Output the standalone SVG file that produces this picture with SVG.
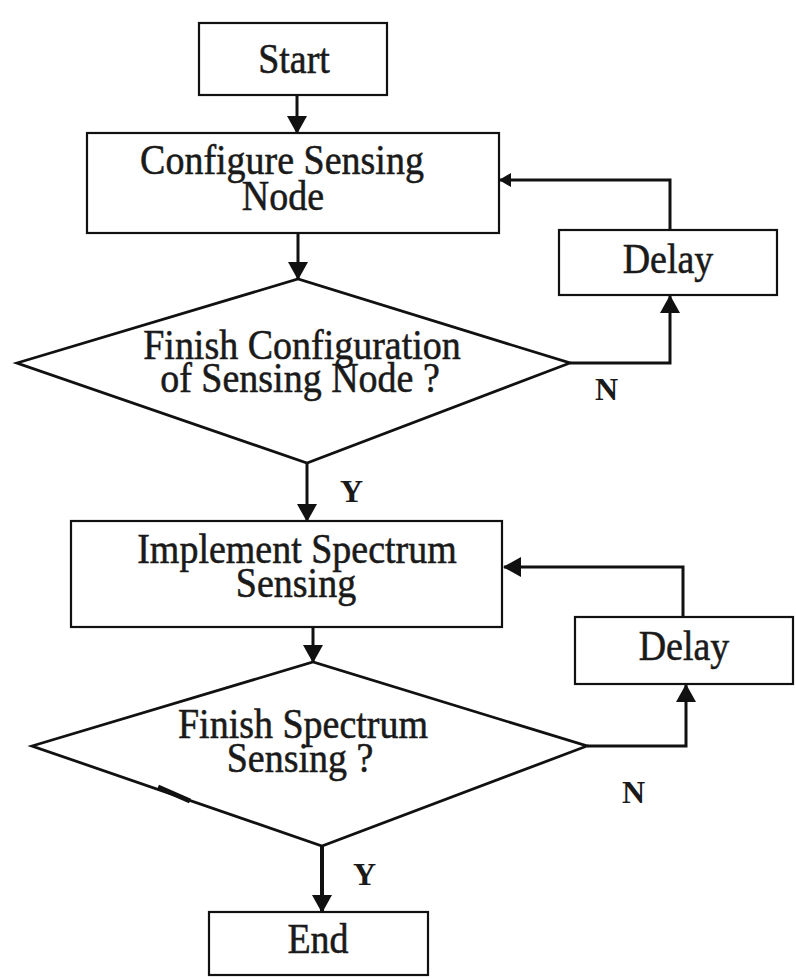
<svg xmlns="http://www.w3.org/2000/svg" width="796" height="979" viewBox="0 0 796 979">
<defs>
<style>
.box{fill:#ffffff;stroke:#111;stroke-width:2.2}
.dia{fill:#ffffff;stroke:#111;stroke-width:2.8}
.con{fill:none;stroke:#111;stroke-width:3}
.t{font-family:"Liberation Serif","Times New Roman",serif;font-size:38px;fill:#1a1a1a;stroke:#1a1a1a;stroke-width:0.5;text-anchor:middle}
.lbl{font-family:"Liberation Serif","Times New Roman",serif;font-size:32px;font-weight:bold;fill:#1a1a1a;text-anchor:start}
</style>
<marker id="ah" viewBox="0 0 18 20" refX="17" refY="10" markerWidth="18" markerHeight="20" markerUnits="userSpaceOnUse" orient="auto">
<path d="M0,0 L18,10 L0,20 z" fill="#111"/>
</marker>
<marker id="ahs" viewBox="0 0 12 14" refX="11" refY="7" markerWidth="12" markerHeight="14" markerUnits="userSpaceOnUse" orient="auto">
<path d="M0,0 L12,7 L0,14 z" fill="#111"/>
</marker>
</defs>
<rect width="796" height="979" fill="#ffffff"/>
<g id="connectors">
<path class="con" d="M297,95 L297,133" marker-end="url(#ah)"/>
<path class="con" d="M298,233 L298,279" marker-end="url(#ah)"/>
<path class="con" d="M570,363 L670,363 L670,296" marker-end="url(#ah)"/>
<path class="con" d="M670,230 L670,180 L500,180" marker-end="url(#ahs)"/>
<path class="con" d="M307,463 L307,521" marker-end="url(#ah)"/>
<path class="con" d="M313,627 L313,662" marker-end="url(#ah)"/>
<path class="con" d="M587,746 L686,746 L686,685" marker-end="url(#ah)"/>
<path class="con" d="M683,617 L683,567 L504,567" marker-end="url(#ah)"/>
<path class="con" style="stroke-width:4" d="M322,846 L322,912" marker-end="url(#ah)"/>
</g>
<g id="start">
<rect class="box" x="199" y="23" width="188" height="72"/>
<text class="t" transform="translate(294,73) scale(1,1.12)">Start</text>
</g>
<g id="configure">
<rect class="box" x="87" y="133" width="412" height="100"/>
<text class="t" transform="translate(282,174) scale(1,1.12)">Configure Sensing</text>
<text class="t" transform="translate(283,210) scale(1,1.12)">Node</text>
</g>
<g id="delay1">
<rect class="box" x="559" y="230" width="218" height="65"/>
<text class="t" transform="translate(668,273) scale(1,1.12)">Delay</text>
</g>
<g id="decision1">
<polygon class="dia" points="17,363 298,279 570,363 307,463"/>
<text class="t" transform="translate(302,359) scale(1,1.12)">Finish Configuration</text>
<text class="t" transform="translate(300,392) scale(1,1.12)">of Sensing Node ?</text>
<text class="lbl" x="595" y="400">N</text>
<text class="lbl" x="340" y="502">Y</text>
</g>
<g id="implement">
<rect class="box" x="71" y="521" width="431" height="106"/>
<text class="t" transform="translate(297,563) scale(1,1.12)">Implement Spectrum</text>
<text class="t" transform="translate(296,597) scale(1,1.12)">Sensing</text>
</g>
<g id="delay2">
<rect class="box" x="575" y="617" width="218" height="67"/>
<text class="t" transform="translate(684,660) scale(1,1.12)">Delay</text>
</g>
<g id="decision2">
<polygon class="dia" points="32,746 313,662 587,746 322,846"/>
<path d="M158,787 L190,801" stroke="#111" stroke-width="5" fill="none"/>
<text class="t" transform="translate(303,738) scale(1,1.12)">Finish Spectrum</text>
<text class="t" transform="translate(300,772) scale(1,1.12)">Sensing ?</text>
<text class="lbl" x="622" y="803">N</text>
<text class="lbl" x="353" y="885">Y</text>
</g>
<g id="end">
<rect class="box" x="209" y="912" width="219" height="63"/>
<text class="t" transform="translate(318,953) scale(1,1.12)">End</text>
</g>
</svg>
